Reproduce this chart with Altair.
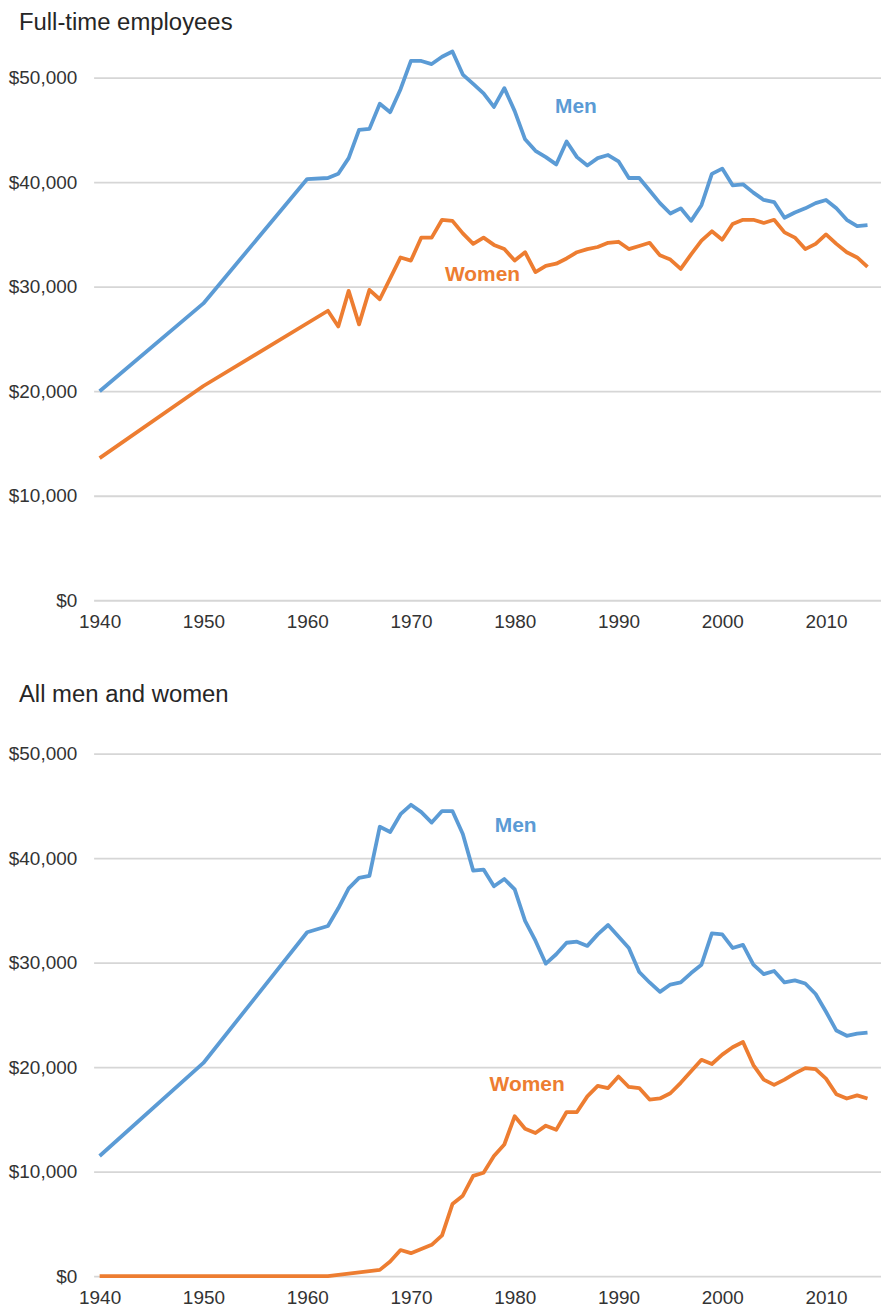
import altair as alt
import pandas as pd

# ---------------- data ----------------
ft_men_years = [1940, 1950, 1960, 1962, 1963, 1964, 1965, 1966, 1967, 1968, 1969,
                1970, 1971, 1972, 1973, 1974, 1975, 1976, 1977, 1978, 1979,
                1980, 1981, 1982, 1983, 1984, 1985, 1986, 1987, 1988, 1989,
                1990, 1991, 1992, 1993, 1994, 1995, 1996, 1997, 1998, 1999,
                2000, 2001, 2002, 2003, 2004, 2005, 2006, 2007, 2008, 2009,
                2010, 2011, 2012, 2013, 2014]
ft_men = [20000, 28400, 40300, 40400, 40800, 42300, 45000, 45100, 47500, 46700, 48900,
          51600, 51600, 51300, 52000, 52500, 50300, 49400, 48500, 47200, 49000,
          46800, 44100, 43000, 42400, 41700, 43900, 42400, 41600, 42300, 42600,
          42000, 40400, 40400, 39200, 38000, 37000, 37500, 36300, 37800, 40800,
          41300, 39700, 39800, 39000, 38300, 38100, 36600, 37100, 37500, 38000,
          38300, 37500, 36400, 35800, 35900]

ft_women_years = [1940, 1950, 1962, 1963, 1964, 1965, 1966, 1967, 1968, 1969,
                  1970, 1971, 1972, 1973, 1974, 1975, 1976, 1977, 1978, 1979,
                  1980, 1981, 1982, 1983, 1984, 1985, 1986, 1987, 1988, 1989,
                  1990, 1991, 1992, 1993, 1994, 1995, 1996, 1997, 1998, 1999,
                  2000, 2001, 2002, 2003, 2004, 2005, 2006, 2007, 2008, 2009,
                  2010, 2011, 2012, 2013, 2014]
ft_women = [13600, 20500, 27700, 26200, 29600, 26400, 29700, 28800, 30800, 32800,
            32500, 34700, 34700, 36400, 36300, 35100, 34100, 34700, 34000, 33600,
            32500, 33300, 31400, 32000, 32200, 32700, 33300, 33600, 33800, 34200,
            34300, 33600, 33900, 34200, 33000, 32600, 31700, 33100, 34400, 35300,
            34500, 36000, 36400, 36400, 36100, 36400, 35200, 34700, 33600, 34100,
            35000, 34100, 33300, 32800, 31900]

all_men_years = ft_men_years
all_men = [11500, 20400, 32900, 33500, 35200, 37100, 38100, 38300, 43000, 42500, 44200,
           45100, 44400, 43400, 44500, 44500, 42300, 38800, 38900, 37300, 38000,
           37000, 34000, 32100, 29900, 30800, 31900, 32000, 31600, 32700, 33600,
           32500, 31400, 29100, 28100, 27200, 27900, 28100, 29000, 29800, 32800,
           32700, 31400, 31700, 29800, 28900, 29200, 28100, 28300, 28000, 27000,
           25300, 23500, 23000, 23200, 23300]

all_women_years = [1940, 1950, 1960, 1962, 1967, 1968, 1969,
                   1970, 1971, 1972, 1973, 1974, 1975, 1976, 1977, 1978, 1979,
                   1980, 1981, 1982, 1983, 1984, 1985, 1986, 1987, 1988, 1989,
                   1990, 1991, 1992, 1993, 1994, 1995, 1996, 1997, 1998, 1999,
                   2000, 2001, 2002, 2003, 2004, 2005, 2006, 2007, 2008, 2009,
                   2010, 2011, 2012, 2013, 2014]
all_women = [0, 0, 0, 0, 600, 1400, 2500,
             2200, 2600, 3000, 3900, 6900, 7700, 9600, 9900, 11500, 12600,
             15300, 14100, 13700, 14400, 14000, 15700, 15700, 17200, 18200, 18000,
             19100, 18100, 18000, 16900, 17000, 17500, 18500, 19600, 20700, 20300,
             21200, 21900, 22400, 20200, 18800, 18300, 18800, 19400, 19900, 19800,
             18900, 17400, 17000, 17300, 17000]

series_names = ["Men", "Women"]
ft_label_year = [1985.9, 1976.9]
ft_label_value = [47200, 31100]
all_label_year = [1980.1, 1981.2]
all_label_value = [43100, 18300]

x_ticks = [1940, 1950, 1960, 1970, 1980, 1990, 2000, 2010]
y_ticks = [0, 10000, 20000, 30000, 40000, 50000]

BLUE = "#5B9BD5"
ORANGE = "#ED7D31"
FONT = "Liberation Sans"

color_scale = alt.Scale(domain=series_names, range=[BLUE, ORANGE])
x_scale = alt.Scale(domain=[1939.42, 2015.3], nice=False, zero=False)
y_scale = alt.Scale(domain=[0, 54000], nice=False)


def panel(title, my, mv, wy, wv, ly, lv, title_offset):
    lines = pd.DataFrame({
        "year": list(my) + list(wy),
        "value": list(mv) + list(wv),
        "series": ["Men"] * len(my) + ["Women"] * len(wy),
    })
    labels = pd.DataFrame({"year": ly, "value": lv, "series": series_names})

    x = alt.X("year:Q", scale=x_scale, title=None,
              axis=alt.Axis(values=x_ticks, format="d", grid=False, ticks=False,
                            domain=False, labelPadding=12, labelFontSize=19,
                            labelFont=FONT, labelColor="#333333"))
    y = alt.Y("value:Q", scale=y_scale, title=None,
              axis=alt.Axis(values=y_ticks, format="$,.0f", grid=True, ticks=False,
                            domain=False, labelPadding=17, labelFontSize=19,
                            labelFont=FONT, labelColor="#333333",
                            gridColor="#d6d6d6", gridWidth=1.8))
    c = alt.Color("series:N", scale=color_scale, legend=None)

    line = alt.Chart(lines).mark_line(strokeWidth=3.8, strokeJoin="round").encode(
        x=x, y=y, color=c, detail="series:N")
    text = alt.Chart(labels).mark_text(font=FONT, fontSize=21, fontWeight="bold").encode(
        x=alt.X("year:Q", scale=x_scale), y=alt.Y("value:Q", scale=y_scale), color=c,
        text="series:N")
    return alt.layer(line, text).properties(
        width=791, height=567,
        title=alt.TitleParams(title, anchor="start", frame="group", fontSize=24,
                              font=FONT, fontWeight="normal", color="#262626",
                              dx=-75, offset=title_offset),
    )


top = panel("Full-time employees", ft_men_years, ft_men, ft_women_years, ft_women,
            ft_label_year, ft_label_value, 1)
bottom = panel("All men and women", all_men_years, all_men, all_women_years, all_women,
               all_label_year, all_label_value, 5)

chart = alt.vconcat(top, bottom, spacing=52).properties(
    padding={"left": 0, "top": 0, "right": 0, "bottom": 0}
).configure_view(stroke=None)

chart.save("out.html", embed_options={"renderer": "svg", "actions": False})
